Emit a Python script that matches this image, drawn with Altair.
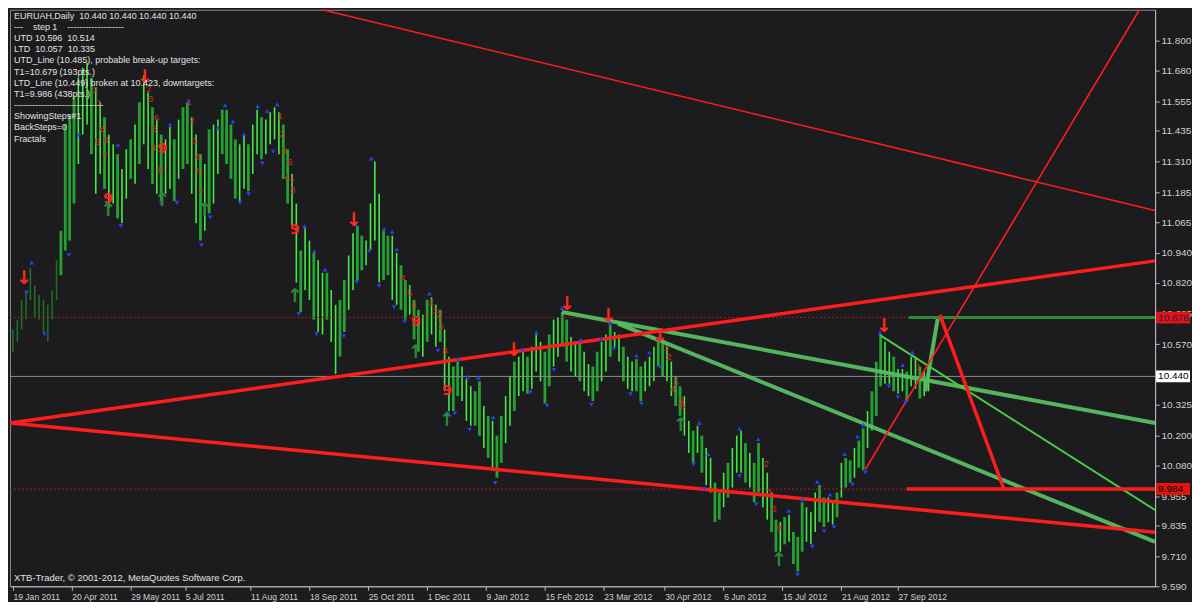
import json
import altair as alt
import pandas as pd

# ---------------- price bars (every second daily bar) ----------------
high_a = [10.63,10.67,10.75,10.79,10.88,10.81,10.77,10.75,10.73,10.79,
          10.91,11.03,11.46,11.50,11.57,11.65,11.69,11.71,11.65,11.61,
          11.55,11.49,11.42,11.38,11.34,11.28,11.36,11.40,11.46,11.55]
low_a = [10.54,10.58,10.63,10.67,10.75,10.68,10.67,10.62,10.58,10.67,
         10.75,10.85,10.95,10.99,11.14,11.30,11.42,11.46,11.34,11.18,
         11.26,11.20,11.12,11.14,11.08,11.06,11.16,11.24,11.22,11.30]
high_b = [11.66,11.59,11.53,11.48,11.42,11.40,11.45,11.40,11.48,11.53,
          11.55,11.49,11.42,11.34,11.30,11.44,11.46,11.48,11.52,11.52,
          11.46,11.40,11.38,11.42,11.38,11.46,11.52,11.49,11.48,11.51]
low_b = [11.38,11.28,11.22,11.18,11.15,11.18,11.20,11.15,11.24,11.28,
         11.30,11.18,11.06,10.99,11.03,11.10,11.14,11.26,11.34,11.30,
         11.24,11.16,11.15,11.20,11.19,11.26,11.34,11.32,11.34,11.38]
high_c = [11.53,11.51,11.46,11.36,11.26,11.14,10.95,11.04,10.99,10.94,
          10.91,10.86,10.86,10.79,10.73,10.75,10.83,10.93,11.02,11.05,
          11.01,10.99,11.14,11.31,11.18,11.03,11.01,11.01,10.94,10.89]
low_c = [11.40,11.34,11.24,11.14,11.05,10.82,10.70,10.79,10.75,10.67,
         10.62,10.61,10.67,10.58,10.45,10.52,10.62,10.71,10.79,10.83,
         10.87,10.89,10.95,10.99,10.82,10.83,10.85,10.75,10.73,10.71]
high_d = [10.83,10.81,10.75,10.71,10.69,10.75,10.76,10.73,10.71,10.63,
          10.52,10.48,10.50,10.48,10.43,10.40,10.38,10.42,10.32,10.28,
          10.26,10.20,10.28,10.36,10.44,10.50,10.52,10.54,10.52,10.56]
low_d = [10.67,10.69,10.59,10.54,10.52,10.58,10.61,10.56,10.58,10.38,
         10.30,10.30,10.36,10.34,10.26,10.24,10.24,10.20,10.15,10.11,
         10.07,10.03,10.09,10.17,10.24,10.30,10.36,10.38,10.37,10.39]
high_e = [10.61,10.58,10.54,10.61,10.67,10.68,10.70,10.67,10.60,10.58,
          10.58,10.54,10.49,10.48,10.54,10.58,10.61,10.65,10.62,10.61,
          10.56,10.52,10.50,10.51,10.48,10.50,10.52,10.56,10.58,10.58]
low_e = [10.46,10.42,10.33,10.40,10.48,10.52,10.56,10.50,10.46,10.44,
         10.42,10.38,10.36,10.34,10.38,10.42,10.46,10.52,10.56,10.50,
         10.42,10.39,10.38,10.38,10.34,10.38,10.40,10.42,10.48,10.44]
high_f = [10.56,10.50,10.44,10.40,10.36,10.26,10.22,10.24,10.20,10.15,
          10.11,10.01,9.97,10.05,10.09,10.15,10.20,10.22,10.17,10.13,
          10.09,10.17,10.11,10.05,9.97,9.86,9.85,9.87,9.88,9.81]
low_f = [10.42,10.36,10.32,10.28,10.20,10.13,10.09,10.13,10.05,10.00,
         9.97,9.85,9.86,9.91,9.95,9.99,10.05,10.05,10.01,9.99,
         9.93,9.97,9.91,9.86,9.81,9.73,9.73,9.76,9.77,9.68]
high_g = [9.79,9.93,9.91,9.89,9.97,10.00,9.95,9.95,9.93,9.97,
          10.09,10.11,10.10,10.15,10.18,10.23,10.30,10.38,10.50,10.61,
          10.58,10.54,10.52,10.47,10.47,10.46,10.52,10.52,10.48,10.46,10.49]
low_g = [9.65,9.73,9.77,9.76,9.81,9.85,9.83,9.85,9.84,9.87,
         9.95,9.99,10.01,10.03,10.07,10.06,10.15,10.22,10.28,10.40,
         10.41,10.41,10.38,10.37,10.38,10.34,10.40,10.39,10.35,10.36,10.38]
# bar style: f = faint, d = dark green, b = bright green
kind_a = "ffffffffff" + "fddddbbbdb" + "bdbbdbbdbd"
kind_b = "bbdbdbbdbd" + "dbbdbdbbdd" + "ddbbdbbdbb"
kind_c = "bbddbbdbbd" + "bbdbbddbbd" + "dbbbbddbbd"
kind_d = "dbddbdbbdb" + "bddbbbddbd" + "bddbbdbbdb"
kind_e = "bbddbbddbb" + "dbbddbbdbb" + "dbbddbbbdd"
kind_f = "bbddbbdbdb" + "bddbdbbbdb" + "ddbbddbdbd"
kind_g = "ddbbbddbbd" + "bddbddbddd" + "bbdbbdbbdbb"

# ---------------- fractals / signals ----------------
up_bar = [8.6,48.2,72.1,80.6,94.1,97.3,100.9,105.9,112.2,116.7,121.2,133.8,138.3,143.2,156.8,
          164.4,170.3,173.9,176.1,191.0,204.5,208.6,213.5,220.3,233.8,240.1,251.8,260.4,269.8,
          273.9,286.0,291.9,295.9,314.9,318.9,333.3,341.9,355.9,362.2,368.9,374.8,381.5,387.4,
          390.1,397.7,408.1,412.6]
up_price = [10.889,11.366,11.448,11.542,11.436,11.526,11.460,11.409,11.522,11.503,11.530,11.037,
            10.936,10.861,11.045,11.311,11.026,11.014,10.943,10.764,10.498,10.427,10.423,10.263,
            10.537,10.607,10.705,10.576,10.580,10.646,10.513,10.525,10.584,10.239,10.114,10.216,
            10.173,9.884,9.930,10.001,9.950,10.114,10.185,10.232,10.607,10.474,10.525]
down_bar = [6.3,14.4,25.7,30.2,49.5,68.0,75.2,86.5,90.5,104.1,108.1,114.4,119.4,131.1,139.2,151.8,
            157.7,163.5,168.0,174.8,179.7,195.0,199.5,202.7,209.5,221.2,237.4,245.0,248.2,265.3,
            275.7,283.3,288.3,296.8,312.2,317.1,333.3,341.0,351.4,359.9,366.7,372.1,376.6,385.1,
            391.0,401.8,405.9,409.5]
down_price = [10.791,10.623,10.943,11.428,11.061,11.151,11.155,10.982,11.096,11.155,11.190,11.315,
              11.362,10.705,10.623,10.615,10.834,10.959,10.818,10.732,10.674,10.556,10.302,10.302,
              10.236,10.020,10.388,10.333,10.478,10.337,10.564,10.380,10.341,10.490,10.095,9.997,
              10.048,9.934,9.727,9.649,9.762,9.825,9.841,10.013,10.063,10.412,10.368,10.345]
sell_bar = [5.0,60.4,156.3,229.7,254.1,273.0,296.8,399.5]
sell_price = [10.838,11.651,11.072,10.548,10.732,10.685,10.603,10.646]
buy_bar = [43.7,68.5,87.8,129.3,184.7,199.1,306.3,351.4]
buy_price = [11.115,11.155,11.112,10.767,10.537,10.263,10.243,9.696]

# TD-sequential counts (red digits); big "9" completions separately
count_bar = [80.6,82.0,83.3,85.1,85.1,86.0,122.5,123.4,124.3,127.0,125.7,127.9,128.4,
             41.0,42.8,38.7,41.9,37.8,39.6,67.6,64.4,65.8,64.9,62.2,63.1,
             178.8,182.0,183.8,191.9,193.7,195.5,196.4,198.2,
             299.5,300.9,304.1,302.7,306.3,307.2,345.5,346.8,349.1,351.4,415.3,416.7]
count_price = [11.553,11.475,11.393,11.327,11.272,11.190,11.495,11.420,11.354,11.307,11.248,11.229,11.194,
               11.444,11.397,11.389,11.331,11.600,11.546,11.276,11.366,11.487,11.440,11.604,11.565,
               10.838,10.779,10.724,10.740,10.705,10.685,10.646,10.544,
               10.556,10.517,10.419,10.388,10.341,10.322,10.087,9.970,9.903,9.825,10.478,10.439]
count_digit = ["1","2","3","6","8","7","1","2","3","6","4","7","8",
               "6","8","5","7","2","1","8","4","6","5","2","3",
               "4","5","8","1","3","4","5","8",
               "1","2","5","4","6","8","2","3","6","9","1","2"]
nine_bar = [43.7, 68.5, 129.3, 184.7, 199.1]
nine_price = [11.158, 11.362, 11.033, 10.662, 10.380]

# ---------------- trend lines (bar, price) ----------------
red_thick = [(-1.35, 10.251, 523.9, 10.908), (-1.35, 10.251, 523.9, 9.809),
             (425.2, 10.689, 454.5, 9.984), (409.9, 9.984, 523.9, 9.984)]
red_thin = [(141.9, 11.925, 523.9, 11.112), (391.0, 10.063, 516.7, 11.925)]
green_thick = [(251.8, 10.701, 523.9, 10.251), (277.5, 10.654, 523.9, 9.770),
               (418.5, 10.380, 424.3, 10.679)]
green_target = [(410.8, 10.679, 523.9, 10.679)]
green_mid = [(397.7, 10.607, 523.9, 9.899)]
dotted_levels = [(-1.35, 10.679, 410.8, 10.679), (-1.35, 9.984, 409.9, 9.984)]
last_price = [(-1.35, 10.440, 523.9, 10.440)]

# ---------------- axes ----------------
tick_bars = [0, 27, 54, 79, 109, 136, 163, 190, 217, 244, 271, 299, 326, 353, 380, 406]
date_labels = ["19 Jan 2011", "20 Apr 2011", "29 May 2011", "5 Jul 2011", "11 Aug 2011",
               "18 Sep 2011", "25 Oct 2011", "1 Dec 2011", "9 Jan 2012", "15 Feb 2012",
               "23 Mar 2012", "30 Apr 2012", "6 Jun 2012", "15 Jul 2012", "21 Aug 2012",
               "27 Sep 2012"]
price_ticks = [11.800, 11.680, 11.555, 11.435, 11.310, 11.185, 11.065, 10.940, 10.820, 10.695,
               10.570, 10.325, 10.200, 10.080, 9.955, 9.835, 9.710, 9.590]
box_price = [10.678, 10.440, 9.984]
box_text = ["10.678", "10.440", "9.984"]
box_fill = ["#e3140f", "#ffffff", "#e3140f"]
box_ink = ["#1a1a66", "#000000", "#000000"]

NB = "\u00a0"
info_lines = [
    "EURUAH,Daily" + NB * 2 + "10.440 10.440 10.440 10.440",
    "---" + NB * 4 + "step 1" + NB * 4 + "-------------------",
    "UTD 10.596" + NB * 2 + "10.514",
    "LTD" + NB * 2 + "10.057" + NB * 2 + "10.335",
    "UTD_Line (10.485), probable break-up targets:",
    "T1=10.679 (193pts.)",
    "LTD_Line (10.449) broken at 10.423, downtargets:",
    "T1=9.986 (438pts.)",
    "------------------------------",
    "ShowingSteps#1",
    "BackSteps=0",
    "Fractals",
]
copyright_text = "XTB-Trader, \u00a9 2001-2012, MetaQuotes Software Corp."

# ---------------- build ----------------
W, H = 1148, 578
BG = "#1c1c1e"
FONT = "Liberation Sans"

highs = high_a + high_b + high_c + high_d + high_e + high_f + high_g
lows = low_a + low_b + low_c + low_d + low_e + low_f + low_g
kinds = kind_a + kind_b + kind_c + kind_d + kind_e + kind_f + kind_g
bars = pd.DataFrame({"bar": [2 * j for j in range(len(highs))],
                     "high": highs, "low": lows, "kind": list(kinds)})

xs = alt.Scale(domain=[-1.35, 523.9], nice=False, zero=False)
ys = alt.Scale(domain=[9.59, 11.925], nice=False, zero=False)

label_expr = f"{json.dumps(date_labels)}[indexof({json.dumps(tick_bars)}, datum.value)]"

x_axis = alt.Axis(values=tick_bars, labelExpr=label_expr, title=None, orient="bottom",
                  labelAlign="left", labelPadding=2, tickSize=4, labelFontSize=8.6,
                  labelColor="#cfcfcf", tickColor="#bdbdbd", domainColor="#bdbdbd",
                  grid=False, labelOverlap=False, labelFont=FONT, labelBound=False,
                  labelFlush=False)
y_axis = alt.Axis(values=price_ticks, format=".3f", title=None, orient="right",
                  tickSize=4, labelPadding=2, labelFontSize=10, labelColor="#cfcfcf",
                  tickColor="#bdbdbd", domainColor="#bdbdbd", grid=False,
                  labelOverlap=False, labelFont=FONT)


def X(field):
    return alt.X(field, scale=xs, axis=x_axis, title=None)


def Y(field):
    return alt.Y(field, scale=ys, axis=y_axis, title=None)


base_bars = alt.Chart(bars)


def bar_layer(k, color, width):
    return base_bars.transform_filter(alt.datum.kind == k).mark_rule(
        color=color, strokeWidth=width).encode(x=X("bar:Q"), y=Y("low:Q"), y2="high:Q")


faint = bar_layer("f", "#1f6d26", 1.6)
dark = bar_layer("d", "#25a032", 2.8)
bright = bar_layer("b", "#44ea44", 1.6)


def seg_layer(segs, color, width, dash=None, opacity=1.0):
    df = pd.DataFrame(segs, columns=["x", "y", "x2", "y2"])
    kw = dict(color=color, strokeWidth=width, opacity=opacity)
    if dash:
        kw["strokeDash"] = dash
    return alt.Chart(df).mark_rule(**kw).encode(
        x=X("x:Q"), x2="x2:Q", y=Y("y:Q"), y2="y2:Q")


lines = [
    seg_layer(last_price, "#8c8c8c", 1),
    seg_layer(dotted_levels, "#b0142a", 1, dash=[2, 2]),
    seg_layer(green_thick, "#58bd62", 4, opacity=0.95),
    seg_layer(green_mid, "#4ccc44", 2),
    seg_layer(green_target, "#2e8b35", 3),
    seg_layer(red_thin, "#ff1c1c", 1.6),
    seg_layer(red_thick, "#ff1c1c", 3.5),
]

counts = alt.Chart(pd.DataFrame({"bar": count_bar, "price": count_price, "d": count_digit})).mark_text(
    font=FONT, fontSize=9, color="#e3241c").encode(x=X("bar:Q"), y=Y("price:Q"), text="d:N")
nines = alt.Chart(pd.DataFrame({"bar": nine_bar, "price": nine_price})).mark_text(
    text="9", font="DejaVu Sans", fontSize=14, fontWeight="bold", color="#ff2020").encode(
    x=X("bar:Q"), y=Y("price:Q"))

fr_up = alt.Chart(pd.DataFrame({"bar": up_bar, "price": up_price})).mark_point(
    shape="triangle-up", filled=True, size=22, color="#2a3df0", opacity=1, yOffset=-3).encode(
    x=X("bar:Q"), y=Y("price:Q"))
fr_down = alt.Chart(pd.DataFrame({"bar": down_bar, "price": down_price})).mark_point(
    shape="triangle-down", filled=True, size=22, color="#2a3df0", opacity=1, yOffset=3).encode(
    x=X("bar:Q"), y=Y("price:Q"))
sell = alt.Chart(pd.DataFrame({"bar": sell_bar, "price": sell_price})).mark_text(
    text="\u2193", font="DejaVu Sans", fontSize=19, fontWeight="bold", color="#ff2a1a").encode(
    x=X("bar:Q"), y=Y("price:Q"))
buy = alt.Chart(pd.DataFrame({"bar": buy_bar, "price": buy_price})).mark_text(
    text="\u2191", font="DejaVu Sans", fontSize=19, fontWeight="bold", color="#2a8a3a").encode(
    x=X("bar:Q"), y=Y("price:Q"))

info = alt.Chart(pd.DataFrame({"t": ["\n".join(info_lines)]})).mark_text(
    align="left", baseline="top", lineBreak="\n", lineHeight=11.2, font=FONT, fontSize=9,
    color="#e2e2e2").encode(x=alt.value(4), y=alt.value(2), text="t:N")
copyright_layer = alt.Chart(pd.DataFrame({"t": [copyright_text]})).mark_text(
    align="left", baseline="bottom", font=FONT, fontSize=9.5, color="#e2e2e2").encode(
    x=alt.value(4), y=alt.value(H - 3), text="t:N")

boxes_df = pd.DataFrame({"price": box_price, "label": box_text, "fill": box_fill, "ink": box_ink})
boxes = alt.Chart(boxes_df).transform_calculate(
    top="datum.price + 0.024", bot="datum.price - 0.024").mark_rect().encode(
    x=alt.value(W + 1), x2=alt.value(W + 35),
    y=Y("top:Q"), y2="bot:Q",
    fill=alt.Fill("fill:N", scale=None))
box_labels = alt.Chart(boxes_df).mark_text(
    align="left", baseline="middle", font=FONT, fontSize=10).encode(
    x=alt.value(W + 3), y=Y("price:Q"), text="label:N",
    color=alt.Color("ink:N", scale=None))

chart = alt.layer(faint, dark, bright, counts, nines, *lines, fr_up, fr_down, sell, buy,
                  info, copyright_layer, boxes, box_labels).properties(
    width=W, height=H, padding=0, background=BG
).configure_view(stroke="#8a8a8a", strokeWidth=1)

chart.save("out.html", embed_options={"renderer": "svg", "actions": False})
